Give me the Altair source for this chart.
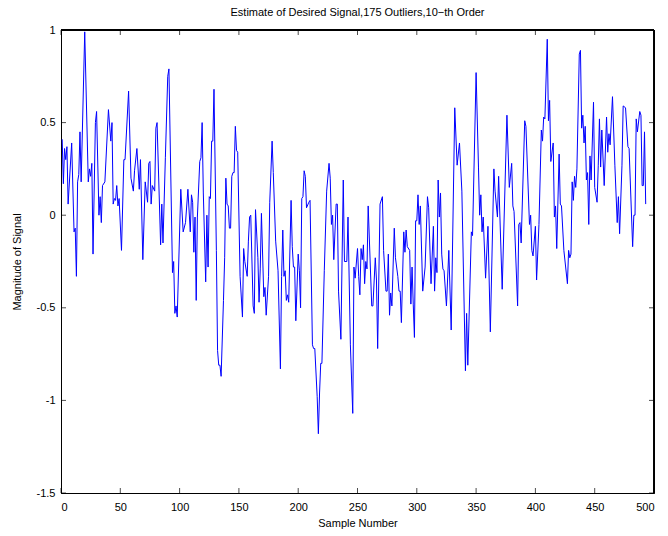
import altair as alt
import pandas as pd

# Estimated desired signal (sample index, magnitude)
sample_number = [
    1, 2, 3, 4, 5, 6, 9, 11, 12, 13, 14, 15, 16, 17, 20, 23, 24, 25, 26, 27,
    29, 30, 32, 33, 34, 35, 37, 40, 42, 43, 44, 45, 46, 47, 48, 49, 51, 53, 54, 57,
    59, 61, 62, 64, 66, 67, 69, 71, 73, 74, 75, 76, 77, 79, 80, 81, 84, 85, 86, 88,
    90, 91, 94, 95, 96, 97, 98, 101, 103, 105, 107, 109, 110, 111, 112, 113, 114, 115, 117, 118,
    119, 120, 122, 123, 124, 125, 126, 127, 128, 129, 131, 132, 133, 134, 135, 137, 138, 139, 140, 141,
    142, 143, 144, 145, 146, 147, 148, 149, 151, 153, 154, 155, 157, 158, 159, 160, 162, 163, 164, 166,
    167, 168, 169, 171, 172, 173, 175, 176, 178, 179, 181, 183, 185, 186, 187, 188, 189, 190, 191, 192,
    194, 195, 196, 197, 198, 200, 201, 202, 203, 204, 205, 206, 207, 209, 210, 212, 213, 214, 216, 217,
    218, 219, 220, 222, 224, 226, 227, 228, 229, 230, 232, 233, 234, 236, 238, 239, 241, 242, 244, 246,
    247, 248, 250, 251, 252, 253, 254, 255, 256, 257, 258, 259, 262, 263, 265, 266, 267, 269, 271, 272,
    274, 275, 276, 277, 278, 279, 281, 282, 284, 285, 286, 287, 289, 290, 291, 292, 294, 295, 296, 297,
    298, 299, 300, 301, 302, 303, 305, 307, 309, 310, 312, 314, 315, 316, 317, 318, 319, 320, 321, 322,
    323, 325, 327, 329, 332, 334, 336, 338, 341, 342, 343, 346, 347, 350, 352, 353, 354, 355, 356, 358,
    360, 362, 365, 366, 368, 369, 372, 376, 378, 380, 381, 382, 385, 386, 387, 388, 391, 392, 395, 396,
    397, 398, 400, 401, 403, 405, 406, 407, 408, 410, 411, 412, 413, 415, 416, 417, 418, 420, 421, 422,
    424, 427, 428, 429, 430, 431, 432, 433, 434, 435, 437, 438, 439, 440, 441, 442, 443, 444, 445, 446,
    447, 449, 450, 452, 453, 454, 455, 456, 458, 460, 461, 462, 463, 465, 467, 469, 470, 471, 473, 474,
    476, 478, 479, 482, 483, 484, 485, 486, 488, 489, 490, 491, 492, 493,
]

signal = [
    0.41, 0.17, 0.36, 0.30, 0.37, 0.06, 0.39, -0.09, -0.07, -0.33, 0.18, 0.22, 0.45, 0.18, 0.99, 0.18, 0.25, 0.21, 0.28, -0.21,
    0.50, 0.56, 0.00, 0.10, -0.04, 0.16, 0.18, 0.57, 0.40, 0.50, 0.06, 0.09, 0.08, 0.16, 0.05, 0.09, -0.19, 0.30, 0.30, 0.67,
    0.20, 0.13, 0.24, 0.36, 0.14, 0.30, -0.24, 0.18, 0.07, 0.28, 0.29, 0.06, 0.16, 0.13, 0.47, 0.50, -0.16, 0.06, -0.15, 0.31,
    0.75, 0.79, -0.31, -0.25, -0.53, -0.49, -0.55, 0.14, -0.09, -0.04, 0.14, -0.09, 0.11, 0.07, -0.20, -0.01, -0.46, -0.01, 0.29, 0.31,
    0.50, 0.12, -0.36, 0.00, -0.28, 0.10, 0.09, 0.40, 0.40, 0.68, -0.19, -0.73, -0.81, -0.81, -0.87, -0.46, -0.23, 0.20, 0.06, 0.05,
    -0.07, -0.07, 0.21, 0.23, 0.23, 0.48, 0.35, 0.34, -0.33, -0.55, -0.18, -0.25, -0.33, -0.14, -0.01, 0.00, -0.49, -0.53, 0.03, -0.23,
    -0.47, -0.29, 0.01, -0.44, -0.39, -0.54, -0.33, 0.07, 0.40, 0.23, -0.14, -0.30, -0.83, -0.33, -0.08, -0.33, -0.30, -0.46, -0.43, -0.47,
    0.08, -0.17, -0.28, -0.28, -0.57, -0.21, -0.30, -0.50, 0.09, 0.10, 0.24, 0.21, 0.04, 0.07, 0.08, -0.70, -0.72, -0.72, -0.98, -1.18,
    -0.96, -0.80, -0.80, -0.30, 0.13, 0.28, 0.20, -0.05, 0.00, -0.24, 0.06, 0.06, -0.41, -0.67, 0.19, -0.25, -0.25, -0.01, -0.70, -1.07,
    -0.28, -0.34, -0.18, -0.33, -0.43, -0.18, -0.24, -0.16, -0.37, -0.25, -0.29, 0.05, -0.49, -0.49, -0.23, -0.35, -0.72, 0.06, 0.10, -0.19,
    -0.41, -0.41, -0.21, -0.54, -0.42, -0.49, -0.07, -0.23, -0.33, -0.41, -0.41, -0.58, -0.09, -0.20, -0.08, -0.17, -0.19, -0.48, -0.28, -0.48,
    -0.66, -0.03, -0.03, 0.11, -0.05, 0.05, -0.41, -0.28, 0.10, 0.04, -0.37, -0.06, -0.41, -0.23, -0.31, 0.19, -0.01, 0.12, -0.21, -0.29,
    -0.30, -0.49, -0.19, -0.62, 0.58, 0.27, 0.39, 0.13, -0.84, -0.53, -0.81, -0.09, -0.11, 0.77, 0.26, 0.00, 0.11, -0.09, -0.01, -0.34,
    -0.06, -0.63, 0.25, 0.13, -0.01, 0.21, -0.40, 0.54, 0.15, 0.28, 0.05, 0.02, -0.49, -0.05, -0.04, -0.15, 0.51, 0.48, -0.05, 0.00,
    -0.19, -0.22, -0.06, -0.35, -0.05, 0.46, 0.40, 0.53, 0.52, 0.95, 0.51, 0.62, 0.29, 0.39, -0.01, 0.05, -0.18, 0.33, 0.06, 0.05,
    -0.19, -0.37, -0.19, -0.23, -0.21, 0.18, 0.08, 0.21, 0.15, 0.25, 0.87, 0.89, 0.47, 0.54, 0.39, 0.48, 0.19, 0.23, -0.05, 0.32,
    0.19, 0.61, 0.15, 0.07, 0.27, 0.52, 0.26, 0.46, 0.16, 0.53, 0.34, 0.44, 0.38, 0.64, 0.27, -0.04, 0.10, -0.10, 0.27, 0.59,
    0.58, 0.37, 0.36, -0.17, 0.00, 0.00, 0.52, 0.45, 0.56, 0.54, 0.16, 0.16, 0.45, 0.06,
]

x_ticks = [0, 50, 100, 150, 200, 250, 300, 350, 400, 450, 500]
y_ticks = [-1.5, -1, -0.5, 0, 0.5, 1]

FONT = "Liberation Sans"
W, H = 593, 463
TICK = 5

df = pd.DataFrame({"Sample": sample_number, "Signal": signal})
xt = pd.DataFrame({"tick": x_ticks})
yt = pd.DataFrame({"tick": y_ticks})

x_scale = alt.Scale(domain=[x_ticks[0], x_ticks[-1]], nice=False, zero=False)
y_scale = alt.Scale(domain=[y_ticks[0], y_ticks[-1]], nice=False, zero=False)

x_axis = alt.Axis(
    values=x_ticks, labelExpr="datum.value + ''", grid=False, ticks=False,
    domain=True, domainColor="black", domainWidth=1,
    labelFont=FONT, labelFontSize=11, labelColor="black", labelPadding=8,
    title="Sample Number", titleFont=FONT, titleFontSize=11,
    titleFontWeight="normal", titleColor="black", titlePadding=5,
)
y_axis = alt.Axis(
    values=y_ticks, labelExpr="datum.value + ''", grid=False, ticks=False,
    domain=True, domainColor="black", domainWidth=1,
    labelFont=FONT, labelFontSize=11, labelColor="black", labelPadding=6,
    title="Magnitude of Signal", titleFont=FONT, titleFontSize=11,
    titleFontWeight="normal", titleColor="black", titlePadding=14,
)

signal_line = alt.Chart(df).mark_line(color="#0000ff", strokeWidth=1).encode(
    x=alt.X("Sample:Q", scale=x_scale, axis=x_axis),
    y=alt.Y("Signal:Q", scale=y_scale, axis=y_axis),
)

# Top and right edges of the axes box
edge_top = alt.Chart(xt).mark_rule(color="black", strokeWidth=1).encode(
    x=alt.value(0), x2=alt.value(W), y=alt.value(0))
edge_right = alt.Chart(yt).mark_rule(color="black", strokeWidth=1).encode(
    x=alt.value(W), y=alt.value(0), y2=alt.value(H))

# Inward tick marks on all four sides
half = TICK / 2
ticks_bottom = alt.Chart(xt).mark_tick(
    color="black", thickness=1, size=TICK, orient="vertical", yOffset=-half
).encode(x=alt.X("tick:Q", scale=x_scale), y=alt.value(H))
ticks_top = alt.Chart(xt).mark_tick(
    color="black", thickness=1, size=TICK, orient="vertical", yOffset=half
).encode(x=alt.X("tick:Q", scale=x_scale), y=alt.value(0))
ticks_left = alt.Chart(yt).mark_tick(
    color="black", thickness=1, size=TICK, orient="horizontal", xOffset=half
).encode(y=alt.Y("tick:Q", scale=y_scale), x=alt.value(0))
ticks_right = alt.Chart(yt).mark_tick(
    color="black", thickness=1, size=TICK, orient="horizontal", xOffset=-half
).encode(y=alt.Y("tick:Q", scale=y_scale), x=alt.value(W))

chart = (
    alt.layer(signal_line, edge_top, edge_right, ticks_bottom, ticks_top, ticks_left, ticks_right)
    .properties(
        width=W,
        height=H,
        autosize="none",
        background="white",
        padding={"left": 61, "top": 30, "right": 14, "bottom": 43},
        title=alt.TitleParams(
            text="Estimate of Desired Signal,175 Outliers,10\u2212th Order",
            font=FONT, fontSize=11, fontWeight="normal", color="black",
            anchor="middle", offset=6,
        ),
    )
    .configure_view(stroke="black", strokeWidth=1)
)

chart.save("out.html", embed_options={"renderer": "svg", "actions": False})
